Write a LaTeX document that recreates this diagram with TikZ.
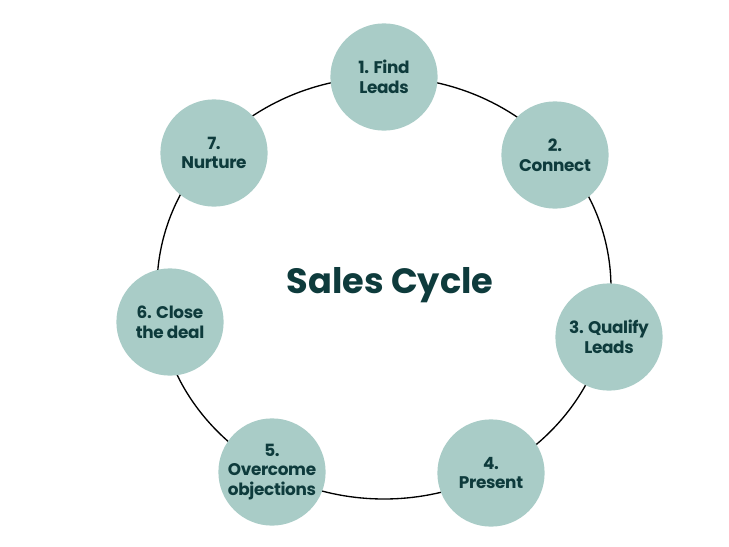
\documentclass[tikz,border=0pt]{standalone}
\usepackage{fontspec}
\setmainfont{Poppins}
\newfontfamily\stagefont[LetterSpace=-2]{Poppins}
\usepackage{tikz}
\usetikzlibrary{positioning, shapes, calc}
\definecolor{sage}{HTML}{A9CCC7}
\definecolor{ink}{HTML}{0E3B3C}
\tikzstyle{stage} = [circle, fill=sage, minimum size=2.68cm, inner sep=0pt, align=center, text=ink, font=\stagefont\fontsize{12}{14}\selectfont\bfseries]
\tikzstyle{title} = [text=ink, font=\fontsize{25}{28}\selectfont\bfseries]
\tikzstyle{ring} = [-, black, line width=0.95pt]

\begin{document}
\begin{tikzpicture}[x=0.025cm, y=-0.025cm]
        \useasboundingbox (0,0) rectangle (729,546);

        % Cycle ring
        \coordinate (hub) at (384,288);
        \draw[ring] (hub) ellipse [x radius=227, y radius=211];

        % Title
        \node[title] (cycle) at (390,285) {Sales Cycle};

        % Stages
        \node[stage] (find) at (384,77) {1. Find\\Leads};
        \node[stage] (connect) at (555,155) {2.\\Connect};
        \node[stage] (qualify) at (609,337) {3. Qualify\\Leads};
        \node[stage] (present) at (491,473) {4.\\Present};
        \node[stage] (overcome) at (272,472) {5.\\Overcome\\objections};
        \node[stage] (close) at (170,322) {6. Close\\the deal};
        \node[stage] (nurture) at (214,153) {7.\\Nurture};
    \end{tikzpicture}
\end{document}
